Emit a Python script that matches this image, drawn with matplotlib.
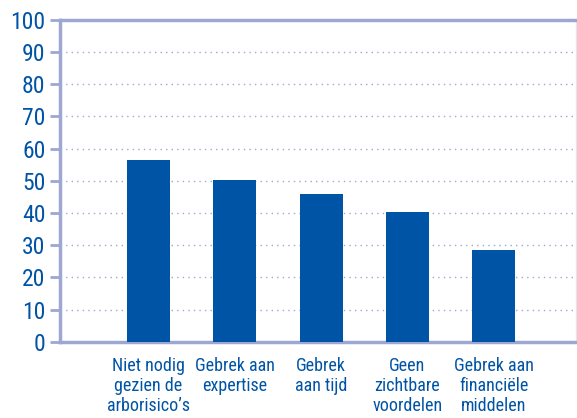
import matplotlib.pyplot as plt
from matplotlib import font_manager
import numpy as np

# Data
categories = ["Niet nodig\ngezien de\narborisico\u2019s", "Gebrek aan\nexpertise",
              "Gebrek\naan tijd", "Geen\nzichtbare\nvoordelen",
              "Gebrek aan\nfinanci\u00eble\nmiddelen"]
values = [56.3, 50.2, 45.8, 40.2, 28.5]
yticks = [0, 10, 20, 30, 40, 50, 60, 70, 80, 90, 100]

blue = "#0054a6"
axis_col = "#9ea7d4"

# pick a narrow font if one is installed
names = sorted({f.name for f in font_manager.fontManager.ttflist})
narrow = [n for n in names if 'Condensed' in n or 'Narrow' in n]
pref = ['Roboto Condensed', 'Liberation Sans Narrow', 'Noto Sans Condensed',
        'Open Sans Condensed', 'DejaVu Sans Condensed']
font = None
for p in pref:
    if p in narrow:
        font = p
        break
if font is None and narrow:
    font = narrow[0]
if font is None:
    font = 'Roboto'
plt.rcParams['font.family'] = [font, 'DejaVu Sans']

fig = plt.figure(figsize=(5.77, 4.18), dpi=100)
ax = fig.add_axes([0.104, 0.182, 0.894, 0.771])

x = np.arange(1, len(values) + 1)
ax.bar(x, values, width=0.5, color=blue, zorder=3)

ax.set_xlim(-0.024, 5.95)
ax.set_ylim(0, 100)

# dotted grid lines
for t in yticks[1:-1]:
    ax.axhline(t, color=axis_col, linestyle=(0, (1, 3)), linewidth=1.0, zorder=1)

ax.set_yticks(yticks)
ax.set_yticklabels([str(t) for t in yticks], fontsize=17, color=blue)
ax.tick_params(axis='y', length=7.5, width=2, color=axis_col, pad=3)

ax.set_xticks(x)
ax.set_xticklabels(categories, fontsize=13, color=blue, linespacing=1.15)
ax.tick_params(axis='x', length=0, pad=11)

for s in ['left', 'bottom', 'top']:
    ax.spines[s].set_color(axis_col)
    ax.spines[s].set_linewidth(2.5)
ax.spines['right'].set_color('#e4e6f0')
ax.spines['right'].set_linewidth(1)

fig.savefig("out.png", dpi=100)
